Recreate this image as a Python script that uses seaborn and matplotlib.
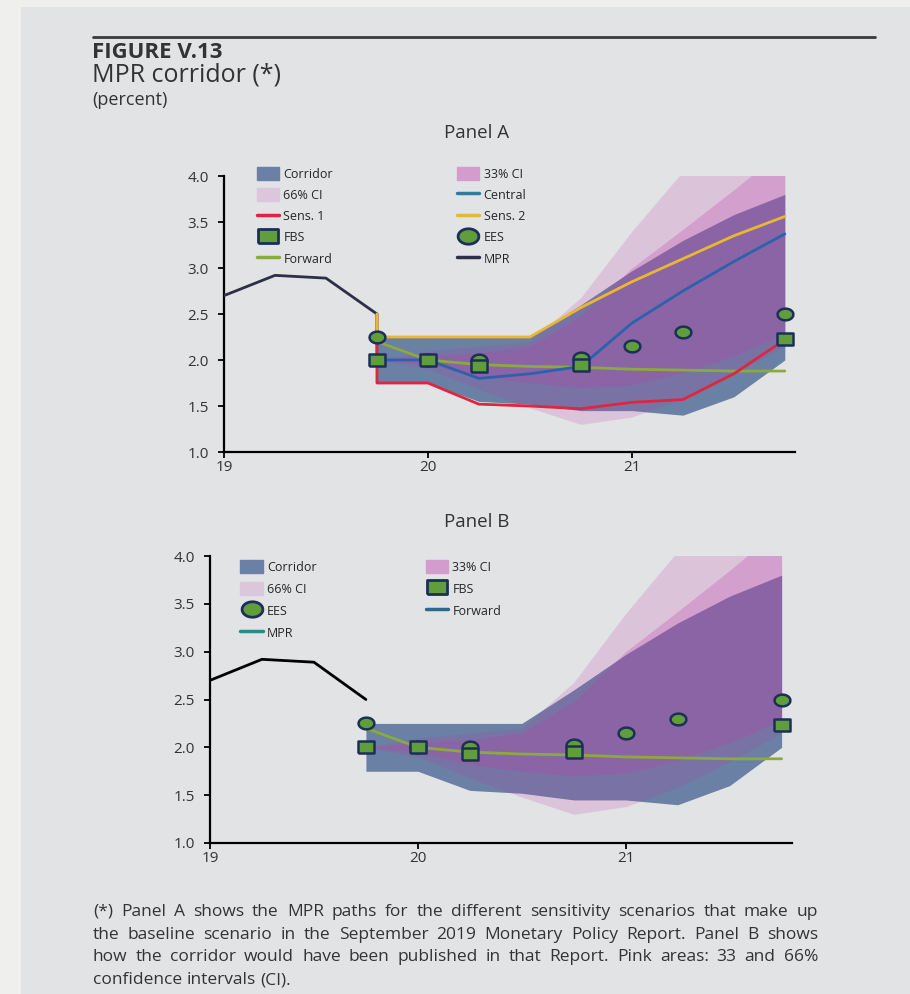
import numpy as np
import matplotlib
matplotlib.use('Agg')
import matplotlib.pyplot as plt
import seaborn as sns
from matplotlib.patches import Patch, Rectangle
from matplotlib.lines import Line2D

# ---- data (x in years: 19 = 2019, quarterly steps) ----
hist_x = [19.0, 19.25, 19.5, 19.75]
hist_mpr = [2.70, 2.92, 2.89, 2.50]

proj_x = [19.75, 20.0, 20.25, 20.5, 20.75, 21.0, 21.25, 21.5, 21.75]
corridor_lo = [1.75, 1.75, 1.55, 1.52, 1.45, 1.45, 1.40, 1.60, 2.00]
corridor_hi = [2.25, 2.25, 2.25, 2.25, 2.60, 2.97, 3.30, 3.58, 3.80]
ci66_lo = [2.00, 1.90, 1.68, 1.48, 1.30, 1.38, 1.58, 1.85, 2.15]
ci66_hi = [2.00, 2.10, 2.15, 2.20, 2.68, 3.40, 4.05, 4.50, 4.90]
ci33_lo = [2.00, 1.95, 1.82, 1.75, 1.70, 1.73, 1.86, 2.05, 2.28]
ci33_hi = [2.00, 2.05, 2.08, 2.15, 2.48, 3.00, 3.42, 3.85, 4.30]

central = [2.00, 2.00, 1.80, 1.85, 1.93, 2.40, 2.75, 3.07, 3.37]
sens1 = [1.75, 1.75, 1.52, 1.50, 1.47, 1.54, 1.57, 1.85, 2.22]
sens2 = [2.25, 2.25, 2.25, 2.25, 2.57, 2.85, 3.10, 3.35, 3.56]
forward = [2.20, 2.00, 1.95, 1.93, 1.92, 1.90, 1.89, 1.88, 1.88]

fbs_x = [19.75, 20.0, 20.25, 20.75, 21.75]
fbs = [2.00, 2.00, 1.93, 1.95, 2.23]
ees_x = [19.75, 20.0, 20.25, 20.75, 21.0, 21.25, 21.75]
ees = [2.25, 2.00, 2.00, 2.02, 2.15, 2.30, 2.50]

y_ticks = [1.0, 1.5, 2.0, 2.5, 3.0, 3.5, 4.0]
x_ticks = [19, 20, 21]

# ---- colours ----
bg_outer = '#efefed'
bg_panel = '#e2e3e5'
c_corr = '#6a80a4'
c_pink = '#be3caa'
c_66 = '#dcc6dc'
c_33 = '#d39ccd'
c_sens1 = '#e0253f'
c_sens2 = '#e8b830'
c_central = '#2a62ae'
c_forward = '#8aaa3c'
c_mpr = '#2b2f48'
c_mark_face = '#5f9e3a'
c_mark_edge = '#1c2f5a'
c_text = '#333333'

# wide markers (the published chart has flattened circles / squares)
t = np.linspace(0, 2 * np.pi, 41)
ees_marker = np.column_stack([1.35 * np.cos(t), np.sin(t)])
fbs_marker = [(-1.3, -1), (1.3, -1), (1.3, 1), (-1.3, 1), (-1.3, -1)]

sns.set_style('ticks')
plt.rcParams['font.family'] = ['Open Sans', 'DejaVu Sans']

W, H = 910, 994
fig = plt.figure(figsize=(W / 100, H / 100), dpi=100, facecolor=bg_outer)
fig.add_artist(Rectangle((21 / W, 0), 1 - 21 / W, 1 - 7 / H, transform=fig.transFigure,
                         facecolor=bg_panel, edgecolor='none', zorder=-10))

# header
fig.add_artist(Line2D([93 / W, 875 / W], [1 - 37 / H] * 2, color='#3a3a3a', lw=2))
fig.text(92 / W, 1 - 58 / H, 'FIGURE V.13', fontsize=16, fontweight='bold', color=c_text, va='baseline')
fig.text(92 / W, 1 - 82 / H, 'MPR corridor (*)', fontsize=18, color=c_text, va='baseline')
fig.text(92 / W, 1 - 105 / H, '(percent)', fontsize=13, color=c_text, va='baseline')


def px_axes(left, right, top, bottom):
    return fig.add_axes([left / W, 1 - bottom / H, (right - left) / W, (bottom - top) / H])


def style_axes(ax):
    ax.set_facecolor('none')
    ax.set_xlim(19, 21.8)
    ax.set_ylim(1, 4)
    ax.set_yticks(y_ticks)
    ax.set_yticklabels([f'{v:.1f}' for v in y_ticks])
    ax.set_xticks(x_ticks)
    ax.set_xticklabels([str(v) for v in x_ticks])
    for s in ['top', 'right']:
        ax.spines[s].set_visible(False)
    for s in ['left', 'bottom']:
        ax.spines[s].set_color('black')
        ax.spines[s].set_linewidth(1.6)
    ax.tick_params(axis='y', pad=7)
    ax.tick_params(axis='x', pad=2)
    ax.tick_params(direction='out', length=4, width=1.3, labelsize=11, colors='black',
                   labelcolor=c_text)
    ax.set_xlabel('')
    ax.set_ylabel('')


def draw_fans(ax):
    ax.fill_between(proj_x, corridor_lo, corridor_hi, color=c_corr, lw=0, zorder=1)
    ax.fill_between(proj_x, ci66_lo, ci66_hi, color=c_pink, alpha=0.18, lw=0, zorder=2)
    ax.fill_between(proj_x, ci33_lo, ci33_hi, color=c_pink, alpha=0.27, lw=0, zorder=3)


def draw_line(ax, x, y, color, z):
    sns.lineplot(x=x, y=y, ax=ax, color=color, lw=2, estimator=None, sort=False,
                 legend=False, zorder=z)


def draw_markers(ax):
    sns.scatterplot(x=ees_x, y=ees, ax=ax, marker=ees_marker, s=130, color=c_mark_face,
                    edgecolor=c_mark_edge, linewidth=1.8, zorder=8, legend=False)
    sns.scatterplot(x=fbs_x, y=fbs, ax=ax, marker=fbs_marker, s=125, color=c_mark_face,
                    edgecolor=c_mark_edge, linewidth=1.8, zorder=9, legend=False)


def start_at_mpr(vals):
    return [hist_x[-1]] + proj_x, [hist_mpr[-1]] + vals


def sq(label):
    return Line2D([], [], marker=fbs_marker, ls='none', ms=14, mfc=c_mark_face,
                  mec=c_mark_edge, mew=2, label=label)


def circ(label):
    return Line2D([], [], marker=ees_marker, ls='none', ms=15, mfc=c_mark_face,
                  mec=c_mark_edge, mew=2, label=label)


def ln(color, label):
    return Line2D([], [], color=color, lw=2.5, label=label)


legend_kw = dict(ncol=2, loc='upper left', frameon=False, fontsize=9, handlelength=1.8,
                 handleheight=1.3, handletextpad=0.35, borderpad=0, borderaxespad=0)

# ---- Panel A ----
fig.text(477 / W, 1 - 133 / H, 'Panel A', fontsize=13.5, color=c_text, ha='center', va='center')
axA = px_axes(224, 795, 176, 452)
draw_fans(axA)
draw_line(axA, hist_x, hist_mpr, c_mpr, 5)
draw_line(axA, proj_x, forward, c_forward, 5)
draw_line(axA, *start_at_mpr(central), c_central, 6)
draw_line(axA, *start_at_mpr(sens1), c_sens1, 6)
draw_line(axA, *start_at_mpr(sens2), c_sens2, 7)
draw_markers(axA)
style_axes(axA)

handles_a = [Patch(color=c_corr, label='Corridor'), Patch(color=c_66, label='66% CI'),
             ln(c_sens1, 'Sens. 1'), sq('FBS'), ln(c_forward, 'Forward'),
             Patch(color=c_33, label='33% CI'), ln('#2e7da0', 'Central'),
             ln(c_sens2, 'Sens. 2'), circ('EES'), ln(c_mpr, 'MPR')]
axA.legend(handles=handles_a, bbox_to_anchor=(0.057, 1.034), columnspacing=9.9,
           labelspacing=0.58, **legend_kw)

# ---- Panel B ----
fig.text(477 / W, 1 - 522 / H, 'Panel B', fontsize=13.5, color=c_text, ha='center', va='center')
axB = px_axes(210, 792, 556, 843)
draw_fans(axB)
draw_line(axB, hist_x, hist_mpr, 'black', 5)
draw_line(axB, proj_x, forward, c_forward, 5)
draw_markers(axB)
style_axes(axB)

handles_b = [Patch(color=c_corr, label='Corridor'), Patch(color=c_66, label='66% CI'),
             circ('EES'), ln('#2a8a8a', 'MPR'),
             Patch(color=c_33, label='33% CI'), sq('FBS'), ln('#2a6a8a', 'Forward')]
axB.legend(handles=handles_b, bbox_to_anchor=(0.052, 0.987), columnspacing=8.7,
           labelspacing=0.64, **legend_kw)

# ---- footnote (justified lines) ----
note_lines = [
    '(*) Panel A shows the MPR paths for the different sensitivity scenarios that make up',
    'the baseline scenario in the September 2019 Monetary Policy Report. Panel B shows',
    'how the corridor would have been published in that Report. Pink areas:  33 and 66%',
    'confidence intervals (CI).',
]
note_font = dict(fontsize=12.5)
renderer = fig.canvas.get_renderer()
probe1 = fig.text(0, 0, 'a a', **note_font)
probe2 = fig.text(0, 0, 'aa', **note_font)
space_w = probe1.get_window_extent(renderer).width - probe2.get_window_extent(renderer).width
probe1.remove()
probe2.remove()
x0, x1 = 93, 818
for i, line in enumerate(note_lines):
    y = 1 - (912 + 22.7 * i) / H
    words = line.split()
    objs = [fig.text(0, y, w, color=c_text, va='center', **note_font) for w in words]
    widths = [o.get_window_extent(renderer).width for o in objs]
    if i < len(note_lines) - 1:
        gap = (x1 - x0 - sum(widths)) / (len(words) - 1)
    else:
        gap = space_w
    x = x0
    for o, w in zip(objs, widths):
        o.set_x(x / W)
        x += w + gap

fig.savefig('out.png', dpi=100, facecolor=fig.get_facecolor())
